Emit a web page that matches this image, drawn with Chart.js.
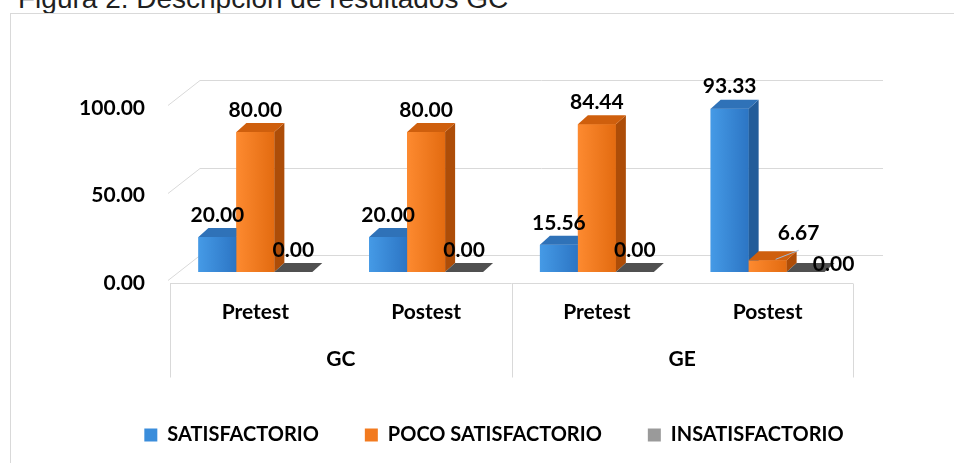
<!DOCTYPE html>
<html>
<head>
<meta charset="utf-8">
<script src="https://cdn.jsdelivr.net/npm/chart.js@4.4.0/dist/chart.umd.min.js"></script>
<style>
  html, body { margin: 0; padding: 0; background: #fff; overflow: hidden; }
  body { width: 954px; height: 463px; position: relative; }
  #title {
    position: absolute; left: 18px; top: -17px;
    font-family: "Liberation Sans", Arial, sans-serif; font-size: 28px; line-height: 32px;
    color: #1f1f1f; white-space: nowrap;
  }
  #frame {
    position: absolute; left: 10px; top: 13px; width: 960px; height: 470px;
    border: 1px solid #d9d9d9;
  }
  #frame canvas { display: block; }
</style>
</head>
<body>
<div id="title">Figura 2. Descripción de resultados GC</div>
<div id="frame"><canvas id="chart" width="943" height="449"></canvas></div>

<script>
// datos
const periodos = ['Pretest', 'Postest', 'Pretest', 'Postest'];
const grupos = ['GC', 'GE'];
const satisfactorio = [20.00, 20.00, 15.56, 93.33];
const pocoSatisfactorio = [80.00, 80.00, 84.44, 6.67];
const insatisfactorio = [0.00, 0.00, 0.00, 0.00];
const yTicks = [0, 50, 100];

const FONT = "Lato, 'Open Sans', sans-serif";

// colores de cada serie: cara frontal (degradado), techo y lateral
const shades = [
  { a: '#459ae6', b: '#2c75c4', top: '#2f72b8', side: '#235c99' },
  { a: '#fd8a30', b: '#e36b10', top: '#cf5f0d', side: '#ad4d08' },
  { a: '#8f8f8f', b: '#6c6c6c', top: '#505050', side: '#3c3c3c' }
];

// rejilla en la pared del fondo (falso 3D) y tabla del eje x
const backWall = {
  id: 'backWall',
  beforeDatasetsDraw(chart) {
    const { ctx, chartArea } = chart;
    const y = chart.scales.y;
    ctx.save();
    ctx.strokeStyle = '#d9d9d9';
    ctx.lineWidth = 1;
    yTicks.forEach(v => {
      const p = Math.round(y.getPixelForValue(v)) + 0.5;
      ctx.beginPath();
      ctx.moveTo(chartArea.left - 2, p + 8);
      ctx.lineTo(chartArea.left + 30, p - 17);
      ctx.lineTo(chartArea.right + 30, p - 17);
      ctx.stroke();
    });

    const x = chart.scales.x;
    const half = (x.getPixelForValue(1) - x.getPixelForValue(0)) / 2;
    const top = chartArea.bottom + 11.5;
    const bottom = top + 94;
    const xs = [chartArea.left, (x.getPixelForValue(1) + x.getPixelForValue(2)) / 2, x.getPixelForValue(3) + half];
    ctx.beginPath();
    ctx.moveTo(xs[0], top);
    ctx.lineTo(xs[2], top);
    xs.forEach(px => {
      px = Math.round(px) + 0.5;
      ctx.moveTo(px, top);
      ctx.lineTo(px, bottom);
    });
    ctx.stroke();
    ctx.restore();
  }
};

// barras con techo y lateral, y etiquetas de valor
const bars3d = {
  id: 'bars3d',
  afterDatasetsDraw(chart, args, opts) {
    const ctx = chart.ctx;
    const dx = opts.dx, dy = opts.dy;
    const metas = chart.data.datasets.map((d, i) => chart.getDatasetMeta(i));
    ctx.save();
    for (let i = 0; i < periodos.length; i++) {
      metas.forEach((meta, di) => {
        const bar = meta.data[i];
        const { x, y, base, width } = bar.getProps(['x', 'y', 'base', 'width'], true);
        const l = x - width / 2, r = x + width / 2;
        const c = shades[di];
        if (base - y > 0.5) {
          const g = ctx.createLinearGradient(l, 0, r, 0);
          g.addColorStop(0, c.a);
          g.addColorStop(1, c.b);
          ctx.fillStyle = g;
          ctx.fillRect(l, y, width, base - y);
          ctx.fillStyle = c.side;
          ctx.beginPath();
          ctx.moveTo(r, y); ctx.lineTo(r + dx, y - dy);
          ctx.lineTo(r + dx, base - dy); ctx.lineTo(r, base);
          ctx.closePath(); ctx.fill();
        }
        ctx.fillStyle = c.top;
        ctx.beginPath();
        ctx.moveTo(l, y); ctx.lineTo(l + dx, y - dy);
        ctx.lineTo(r + dx, y - dy); ctx.lineTo(r, y);
        ctx.closePath(); ctx.fill();
      });
    }

    ctx.font = 'bold 21px ' + FONT;
    ctx.fillStyle = '#000';
    ctx.textAlign = 'center';
    ctx.textBaseline = 'middle';
    metas.forEach((meta, di) => {
      meta.data.forEach((bar, i) => {
        const { x, y } = bar.getProps(['x', 'y'], true);
        const n = opts.nudge[di + '-' + i] || { dx: 0, dy: 0 };
        const lx = x + n.dx, ly = y - 22 + n.dy;
        if (n.leader) {
          ctx.strokeStyle = '#9fb9d8';
          ctx.lineWidth = 1;
          ctx.beginPath();
          ctx.moveTo(x + 8, y - 1);
          ctx.lineTo(lx, ly + 17);
          ctx.stroke();
        }
        ctx.fillText(chart.data.datasets[di].data[i].toFixed(2), lx, ly);
      });
    });
    ctx.restore();
  }
};

new Chart(document.getElementById('chart'), {
  type: 'bar',
  data: {
    labels: periodos,
    datasets: [
      { label: 'SATISFACTORIO', data: satisfactorio, backgroundColor: '#3a8ddb' },
      { label: 'POCO SATISFACTORIO', data: pocoSatisfactorio, backgroundColor: '#f27a1f' },
      { label: 'INSATISFACTORIO', data: insatisfactorio, backgroundColor: '#9a9a9a' }
    ]
  },
  options: {
    responsive: false,
    animation: false,
    layout: { padding: { left: 23, right: 0, top: 83, bottom: 8 } },
    datasets: { bar: { categoryPercentage: 0.667, barPercentage: 1 } },
    scales: {
      x: {
        grid: { display: false },
        border: { display: false },
        ticks: { padding: 20, color: '#000', font: { family: FONT, size: 21, weight: 'bold' } },
        afterFit(a) { a.height = 56; }
      },
      x2: {
        type: 'category',
        labels: grupos,
        position: 'bottom',
        offset: true,
        grid: { display: false },
        border: { display: false },
        ticks: { padding: 11, color: '#000', font: { family: FONT, size: 21, weight: 'bold' } },
        afterFit(a) { a.height = 51; }
      },
      y: {
        min: 0,
        max: 100,
        grid: { display: false },
        border: { display: false },
        ticks: {
          stepSize: 50,
          padding: 17,
          labelOffset: 11,
          color: '#000',
          font: { family: FONT, size: 21, weight: 'bold' },
          callback: v => v.toFixed(2)
        },
        afterFit(a) { a.width = 136; }
      },
      yRight: {
        type: 'linear',
        position: 'right',
        grid: { display: false },
        border: { display: false },
        ticks: { display: false },
        afterFit(a) { a.width = 101; }
      }
    },
    plugins: {
      tooltip: { enabled: false },
      legend: {
        position: 'bottom',
        labels: {
          boxWidth: 13,
          boxHeight: 13,
          padding: 46,
          color: '#000',
          font: { family: FONT, size: 20, weight: 'bold' }
        }
      },
      bars3d: {
        dx: 10,
        dy: 9,
        nudge: {
          '1-3': { dx: 31, dy: -5, leader: true },
          '2-3': { dx: 28, dy: 14 }
        }
      }
    }
  },
  plugins: [backWall, bars3d]
});
</script>
</body>
</html>
